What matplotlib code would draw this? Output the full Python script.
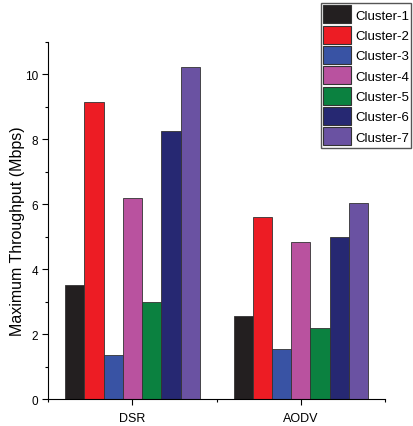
import matplotlib
matplotlib.use("Agg")
import matplotlib.pyplot as plt
import numpy as np
from matplotlib.ticker import MultipleLocator, FixedLocator

plt.rcParams['font.family'] = ['Liberation Sans', 'DejaVu Sans']

categories = ["DSR", "AODV"]
clusters = ["Cluster-1", "Cluster-2", "Cluster-3", "Cluster-4", "Cluster-5", "Cluster-6", "Cluster-7"]
dsr = [3.5, 9.13, 1.37, 6.2, 3.0, 8.25, 10.21]
aodv = [2.55, 5.61, 1.55, 4.84, 2.2, 5.0, 6.04]
colors = ["#231f20", "#ed1c24", "#3953a4", "#b9529f", "#0b8140", "#262872", "#6a52a2"]

fig = plt.figure(figsize=(4.14, 4.27), dpi=100)
ax = fig.add_axes([0.1167, 0.0632, 0.930 - 0.1167, 0.9 - 0.0632])

x = np.arange(1, len(categories) + 1)
n = len(clusters)
w = 0.8 / n
handles = []
for i in range(n):
    vals = [dsr[i], aodv[i]]
    h = ax.bar(x - 0.4 + w * (i + 0.5), vals, width=w, color=colors[i],
               edgecolor="#333333", linewidth=0.6, label=clusters[i])
    handles.append(h)

ax.set_xlim(0.5, 2.5)
ax.set_ylim(0, 11)
ax.set_xticks(x)
ax.set_xticklabels(categories)
ax.xaxis.set_minor_locator(FixedLocator([0.5, 1.5, 2.5]))
ax.yaxis.set_major_locator(MultipleLocator(2))
ax.yaxis.set_minor_locator(MultipleLocator(1))
ax.tick_params(axis='both', which='major', length=4, width=0.8, direction='out')
ax.tick_params(axis='y', which='major', labelsize=8.5)
ax.tick_params(axis='x', which='major', labelsize=9, pad=5)
ax.tick_params(axis='both', which='minor', length=2.5, width=0.8, direction='out')
for s in ['top', 'right']:
    ax.spines[s].set_visible(False)
for s in ['left', 'bottom']:
    ax.spines[s].set_linewidth(0.8)
ax.set_ylabel("Maximum Throughput (Mbps)", fontsize=11.5)
ax.yaxis.set_label_coords(-0.07, 0.472)

fs = 9.5
leg = fig.legend(handles=handles, labels=clusters, loc='upper left',
                 bbox_to_anchor=(321.0 / 414, 1 - 4 / 427), fontsize=fs,
                 handlelength=2.12, handleheight=1.72, labelspacing=0.18,
                 handletextpad=0.3, borderpad=0.17, borderaxespad=0,
                 fancybox=False, framealpha=1, edgecolor="#555555")
leg.get_frame().set_linewidth(1.0)
for p in leg.get_patches():
    p.set_edgecolor("#333333")
    p.set_linewidth(0.8)

fig.savefig("out.png", dpi=100)
